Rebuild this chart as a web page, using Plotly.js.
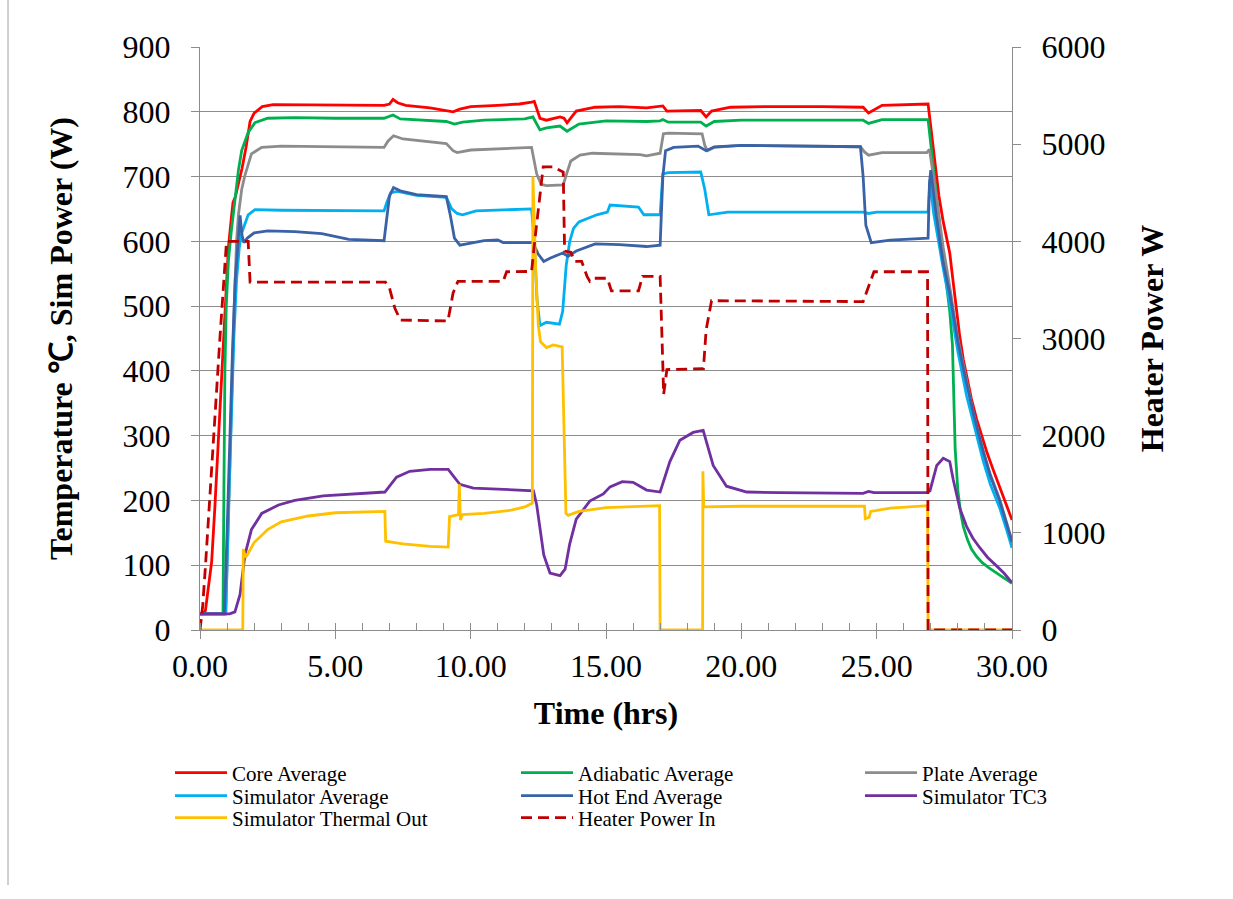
<!DOCTYPE html>
<html>
<head>
<meta charset="utf-8">
<script src="https://cdn.plot.ly/plotly-3.0.1.min.js"></script>
<style>html,body{margin:0;padding:0;background:#fff;}#chart{width:1233px;height:899px;}</style>
</head>
<body>
<div id="chart"></div>
<script>
// ---- Data (time in hrs, temperatures / sim power on left axis, heater power W on right axis) ----
const coreT = [0,0.1,0.2,0.43,0.55,0.68,0.87,1.05,1.17,1.22,1.3,1.42,1.55,1.7,1.85,2.0,2.3,2.7,3.5,5.0,6.8,7.0,7.13,7.3,7.6,8.5,9.0,9.35,9.6,10.0,11.0,11.8,12.25,12.35,12.56,12.8,13.3,13.45,13.56,13.9,14.6,15.5,16.5,17.0,17.1,17.25,18.0,18.5,18.7,18.9,19.6,21.0,23.0,24.5,24.7,25.2,26.9,27.1,27.3,27.46,27.7,27.83,27.95,28.07,28.2,28.32,28.5,28.69,28.9,29.06,29.3,29.55,29.8,30];
const core  = [25,25,30,105,190,298,464,591,641,660,668,688,712,745,785,798,808,811,811,810,810,812,819,814,810,806,803,800,804,808,810,812,815,816,790,787,792,790,783,801,807,808,806,809,809,801,802,802,792,801,807,808,808,807,798,810,812,740,670,630,582,536,490,453,418,392,357,326,298,276,248,221,193,170];

const adiaT = [0,0.85,0.88,0.92,0.97,1.05,1.15,1.29,1.42,1.54,1.78,2.03,2.5,3.5,5,6.8,7.13,7.4,8.5,9.1,9.4,9.7,10.5,12.0,12.3,12.56,12.8,13.3,13.56,14.0,15.0,16.5,17.0,17.1,17.3,18.5,18.7,19.0,20,24.5,24.7,25.2,26.9,27.09,27.46,27.7,27.8,27.9,28.0,28.1,28.2,28.35,28.5,28.7,28.9,29.15,29.4,29.7,30];
const adia  = [25,25,200,400,500,570,613,668,710,740,768,783,790,791,790,790,795,789,786,785,781,784,787,789,792,772,775,778,770,781,786,785,786,788,784,784,778,785,787,787,782,788,788,713,575,492,440,280,215,182,160,140,125,113,104,96,89,80,72];

const plateT = [0,0.95,1.05,1.15,1.25,1.35,1.42,1.54,1.66,1.9,2.28,3,6.8,6.95,7.15,7.5,8.5,9.1,9.35,9.5,10.0,11.5,12.25,12.44,12.6,12.8,13.42,13.55,13.7,14.04,14.5,16.26,16.5,17.0,17.12,17.3,18.55,18.65,18.75,19.0,20,24.4,24.55,24.7,25.2,26.85,26.95,27.1,27.3,27.46,27.7,28.0,28.32,28.6,28.93,29.2,29.55,29.8,30];
const plate  = [25,25,170,330,480,600,641,680,702,735,745,747,745,755,763,758,753,751,740,737,741,744,745,704,688,686,687,705,724,733,736,734,732,736,766,767,766,748,740,745,748,746,738,733,737,737,742,700,640,590,530,450,385,330,278,240,201,166,138];

const simAvgT = [0,0.95,1.05,1.15,1.25,1.35,1.45,1.54,1.78,2.03,3,6.8,6.9,7.05,7.3,8,9.1,9.3,9.5,9.7,10.2,12.25,12.35,12.45,12.56,12.8,13.28,13.4,13.53,13.66,13.8,14.0,14.66,15.05,15.15,16.2,16.4,17.0,17.1,17.3,18.5,18.65,18.8,19.5,24.5,24.7,25,26.9,26.97,27.1,27.3,27.46,27.7,28.0,28.32,28.6,28.93,29.2,29.55,29.8,30];
const simAvg  = [25,25,180,330,450,540,590,613,641,649,648,647,660,675,677,671,668,650,643,641,647,650,600,510,470,475,472,492,563,600,620,630,641,645,656,653,641,641,704,706,707,680,641,645,645,643,645,645,695,645,595,558,505,430,362,315,262,225,188,155,127];

const hotT = [0,0.9,1.0,1.1,1.2,1.3,1.4,1.48,1.55,1.62,1.75,2.0,2.5,3.5,4.5,5.0,5.5,6.8,6.9,7.0,7.15,7.4,8.0,9.1,9.25,9.4,9.6,10.0,10.5,11.0,11.2,12.3,12.5,12.7,12.93,13.4,13.6,13.9,14.6,15.5,16.5,17.0,17.1,17.2,17.5,18.4,18.7,19.0,20.0,24.4,24.5,24.6,24.8,25.5,26.9,26.95,27.0,27.2,27.46,27.7,28.0,28.32,28.6,28.93,29.2,29.55,29.8,30];
const hot  = [25,25,150,300,430,540,600,640,610,598,605,613,616,615,612,607,603,601,640,670,683,678,672,669,640,605,594,597,601,602,598,598,580,569,574,582,577,585,596,595,592,594,700,740,745,747,740,746,748,746,700,625,598,602,605,690,710,640,566,520,445,381,330,276,238,199,163,136];

const tc3T = [0,1.1,1.29,1.48,1.66,1.9,2.28,2.9,3.5,4.55,6.83,7.0,7.26,7.75,8.5,9.17,9.4,9.6,10.1,11.5,12.32,12.44,12.7,12.93,13.3,13.49,13.66,13.9,14.4,14.9,15.15,15.6,16.0,16.5,17.0,17.36,17.73,18.22,18.59,18.96,19.45,20.2,21.4,24.5,24.7,24.9,26.85,26.97,27.22,27.46,27.7,27.83,28.07,28.32,28.55,28.81,29.1,29.43,29.7,30];
const tc3  = [25,25,28,55,116,155,180,193,200,207,213,222,236,245,248,248,235,225,219,217,215,193,116,88,84,94,133,171,199,210,221,229,228,216,213,260,293,305,308,254,222,213,212,211,214,212,212,215,254,265,260,232,188,160,142,127,112,99,88,73];

const thermT = [0,1.58,1.6,1.68,1.8,2.0,2.5,3.0,4.0,5.0,6.83,6.86,7.5,8.5,9.17,9.22,9.55,9.58,9.62,9.7,10.5,11.5,12.0,12.28,12.3,12.4,12.5,12.58,12.8,13.05,13.38,13.45,13.52,13.6,14.0,15,16,16.98,17.0,18.57,18.58,18.61,20,24.55,24.58,24.72,24.78,25.5,26.88,26.9,30];
const therm  = [0,0,125,112,120,135,155,167,176,181,183,137,133,129,128,175,178,225,170,178,180,185,190,196,700,560,470,445,436,440,437,320,180,177,183,189,190,192,0,0,245,190,191,191,172,174,183,188,192,0,0];

const heaterT = [0,0.1,0.2,0.37,0.55,0.74,0.92,0.98,1.78,1.85,6.85,7.0,7.2,7.4,9.16,9.35,9.53,11.2,11.33,12.25,12.37,12.56,12.68,13.05,13.3,13.42,13.47,13.7,13.85,14.1,14.3,14.4,14.5,15.05,15.2,16.2,16.35,17.0,17.1,17.13,17.25,18.6,18.7,18.9,24.5,24.9,26.88,26.9,30];
const heater  = [0,250,650,1436,2247,3020,3757,4000,4000,3580,3580,3520,3311,3190,3180,3468,3588,3588,3687,3690,4010,4490,4767,4767,4733,4713,3900,3887,3793,3793,3640,3590,3620,3620,3490,3490,3640,3640,2720,2425,2680,2690,3090,3389,3380,3687,3687,0,0];

const seriesNames = ["Core Average","Adiabatic Average","Plate Average","Simulator Average","Hot End Average","Simulator TC3","Simulator Thermal Out","Heater Power In"];
const seriesColors = ["#FF0000","#00B050","#8C8C8C","#00B0F0","#3A62A7","#7030A0","#FFC000","#C00000"];

// ---- Layout helpers ----
const W = 1233, H = 899;
const PL = 200, PR = 1012, PT = 47, PB = 630;
const pw = PR - PL, ph = PB - PT;
const px2x = p => (p - PL) / pw;
const py2y = p => (PB - p) / ph;
const FONT = "Liberation Serif, Times New Roman, serif";

const data = [
  [coreT, core, 'y'], [adiaT, adia, 'y'], [plateT, plate, 'y'], [simAvgT, simAvg, 'y'],
  [hotT, hot, 'y'], [tc3T, tc3, 'y'], [thermT, therm, 'y'], [heaterT, heater, 'y2']
];
// legend slots: col, row
const slots = [[0,0],[1,0],[2,0],[0,1],[1,1],[2,1],[0,2],[1,2]];
const colLeft = [170, 516, 860];
const rowY = [773, 796, 818];

const traces = data.map((d, i) => ({
  x: d[0], y: d[1], yaxis: d[2], type: 'scatter', mode: 'lines',
  name: seriesNames[i], showlegend: true,
  line: {color: seriesColors[i], width: i === 7 ? 2.8 : 2.8, dash: i === 7 ? '11px,6px' : 'solid'},
  legend: i === 0 ? 'legend' : 'legend' + (i + 1),
  hoverinfo: 'skip'
}));
const order = [7,0,1,2,3,4,5,6];
const orderedTraces = order.map(i => traces[i]);

const layout = {
  width: W, height: H, showlegend: true,
  paper_bgcolor: '#ffffff', plot_bgcolor: '#ffffff',
  margin: {l: PL, r: W - PR, t: PT, b: H - PB, pad: 0},
  font: {family: FONT, color: '#000000', size: 32},
  xaxis: {
    range: [0, 30], dtick: 5, tick0: 0, tickformat: '.2f',
    showgrid: false, zeroline: false,
    showline: true, linecolor: '#8C8C8C', linewidth: 1,
    ticks: 'outside', ticklen: 8, tickcolor: '#8C8C8C',
    minor: {dtick: 1, ticks: 'inside', ticklen: 7, tickcolor: '#8C8C8C', showgrid: false},
    tickfont: {family: FONT, size: 32, color: '#000'},
    title: {text: 'Time (hrs)', font: {family: FONT, size: 32, weight: 'bold', color: '#000'}, standoff: 18}
  },
  yaxis: {
    range: [0, 900], dtick: 100, tick0: 0,
    showgrid: true, gridcolor: '#8C8C8C', gridwidth: 1, zeroline: false,
    showline: true, linecolor: '#8C8C8C', linewidth: 1,
    ticks: 'outside', ticklen: 8, tickcolor: '#8C8C8C', ticklabelstandoff: 14,
    tickfont: {family: FONT, size: 32, color: '#000'},
    title: {text: 'Temperature ℃, Sim Power (W)', font: {family: FONT, size: 32, weight: 'bold', color: '#000'}, standoff: 40}
  },
  yaxis2: {
    range: [0, 6000], dtick: 1000, tick0: 0, overlaying: 'y', side: 'right',
    showgrid: false, zeroline: false,
    showline: true, linecolor: '#8C8C8C', linewidth: 1,
    ticks: 'outside', ticklen: 8, tickcolor: '#8C8C8C', ticklabelstandoff: 14,
    tickfont: {family: FONT, size: 32, color: '#000'},
    title: {text: 'Heater Power W', font: {family: FONT, size: 32, weight: 'bold', color: '#000'}, standoff: 36}
  },
  shapes: [
    {type: 'line', xref: 'paper', yref: 'paper', x0: px2x(8), x1: px2x(8), y0: py2y(0), y1: py2y(885),
     line: {color: '#A0A0A0', width: 1}}
  ]
};

slots.forEach((s, i) => {
  const key = i === 0 ? 'legend' : 'legend' + (i + 1);
  layout[key] = {
    visible: true,
    x: px2x(colLeft[s[0]]), y: py2y(rowY[s[1]]),
    xanchor: 'left', yanchor: 'middle', orientation: 'v',
    bgcolor: 'rgba(0,0,0,0)', borderwidth: 0,
    itemwidth: 52,
    font: {family: FONT, size: 21, color: '#000'}
  };
});

Plotly.newPlot('chart', orderedTraces, layout, {displayModeBar: false, staticPlot: true});
</script>
</body>
</html>
